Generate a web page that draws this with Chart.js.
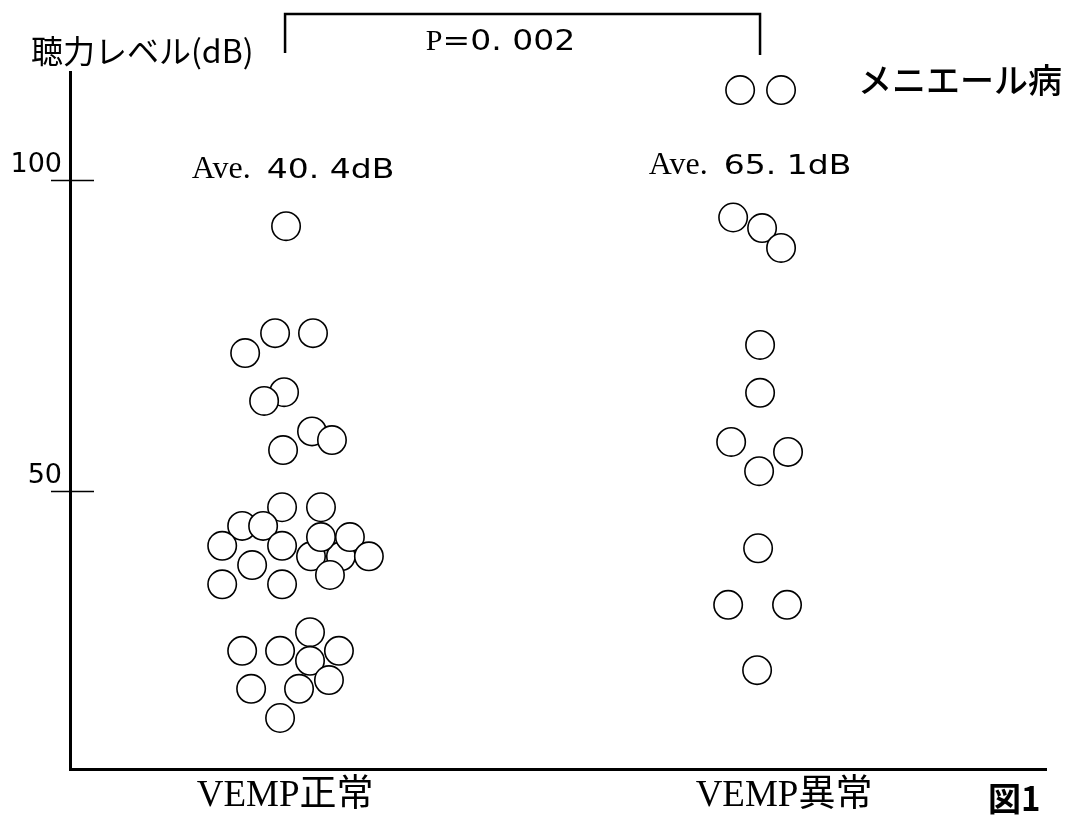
<!DOCTYPE html>
<html>
<head>
<meta charset="utf-8">
<title>聴力レベル - メニエール病</title>
<script src="https://cdn.jsdelivr.net/npm/chart.js@4/dist/chart.umd.min.js"></script>
<style>
  html, body { margin: 0; padding: 0; background: #fff; }
  canvas { display: block; }
</style>
</head>
<body>
<canvas id="chart" width="1072" height="823"></canvas>
<script>
// Groups on the x axis
const groups = ['VEMP正常', 'VEMP異常'];

// Hearing level (dB) of each patient, VEMP normal group
const normalLevels = [92.6, 75.4, 75.4, 72.2, 65.9, 64.5, 59.6, 58.2, 56.6,
  47.4, 47.4, 44.4, 44.4, 39.5, 39.5, 42.6, 42.6, 39.5, 41.2, 41.2, 38.1,
  36.5, 35.0, 35.0, 27.3, 24.3, 24.3, 24.3, 22.7, 19.6, 18.2, 18.2, 13.5];
// Horizontal spread of each dot around its group (in group units)
const normalJitter = [0.002, -0.020, 0.056, -0.080, -0.002, -0.042, 0.054, 0.094, -0.004,
  -0.006, 0.072, -0.086, -0.044, 0.052, 0.112, 0.072, 0.130, 0.168, -0.126, -0.006, -0.066,
  0.090, -0.126, -0.006, 0.050, -0.086, -0.010, 0.108, 0.050, 0.088, -0.068, 0.028, -0.010];

// Hearing level (dB) of each patient, VEMP abnormal group
const abnormalLevels = [114.5, 114.5, 92.3, 94.0, 89.1, 73.5, 65.8, 57.9, 56.3, 53.2,
  40.8, 31.7, 31.7, 21.2];
const abnormalJitter = [-0.088, -0.006, -0.044, -0.102, -0.006, -0.048, -0.048, -0.106, 0.008, -0.050,
  -0.052, -0.112, 0.006, -0.054];

// Group means and test result
const averages = [40.4, 65.1];
const pValue = '0. 002';

// Y axis tick values and range
const yTicks = [50, 100];
const yRange = [5.3, 117.4];
const xRange = [0.569, 2.525];

const SERIF = '"Liberation Serif", "Noto Sans CJK JP", serif';
const GOTHIC = '"DejaVu Sans", "Noto Sans CJK JP", sans-serif';
const CJK = '"Noto Sans CJK JP", "Noto Sans", sans-serif';

// Draw a run of text pieces, each with its own font and horizontal stretch
function drawRun(ctx, parts, x, baseline, align) {
  let total = 0;
  parts.forEach(p => {
    ctx.font = p.font;
    p.w = ctx.measureText(p.text).width * (p.sx || 1);
    total += p.w;
  });
  let px = align === 'center' ? x - total / 2 : x;
  ctx.textAlign = 'left';
  ctx.textBaseline = 'alphabetic';
  parts.forEach(p => {
    ctx.save();
    ctx.font = p.font;
    ctx.translate(px, baseline);
    ctx.scale(p.sx || 1, 1);
    ctx.fillText(p.text, 0, 0);
    ctx.restore();
    px += p.w;
  });
}

const fmtAvg = v => v.toFixed(1).replace('.', '. ') + 'dB';

const annotations = {
  id: 'annotations',
  afterDraw(chart) {
    const { ctx, chartArea: a, scales: { x, y } } = chart;
    ctx.save();
    ctx.fillStyle = '#000';
    ctx.strokeStyle = '#000';

    // tick marks crossing the y axis
    ctx.lineWidth = 1.3;
    yTicks.forEach(t => {
      const py = Math.round(y.getPixelForValue(t)) + 0.5;
      ctx.beginPath();
      ctx.moveTo(a.left - 19, py);
      ctx.lineTo(a.left + 24, py);
      ctx.stroke();
    });

    // significance bracket between the two groups
    const bx1 = x.getPixelForValue(1);
    const bx2 = x.getPixelForValue(2) - 24;
    ctx.lineWidth = 2.5;
    ctx.beginPath();
    ctx.moveTo(bx1, a.top - 19);
    ctx.lineTo(bx1, a.top - 58);
    ctx.lineTo(bx2, a.top - 58);
    ctx.lineTo(bx2, a.top - 17);
    ctx.stroke();

    drawRun(ctx, [
      { text: 'P', font: '30px ' + SERIF },
      { text: '=' + pValue, font: '28px ' + GOTHIC, sx: 1.18 }
    ], (bx1 + bx2) / 2 - 22, a.top - 22, 'center');

    // group means above the 100 dB line
    const y100 = y.getPixelForValue(100);
    const avgPos = [[x.getPixelForValue(1) + 8, y100 - 2], [x.getPixelForValue(2) - 34, y100 - 6]];
    averages.forEach((v, i) => {
      drawRun(ctx, [
        { text: 'Ave.  ', font: '32px ' + SERIF },
        { text: fmtAvg(v), font: '26px ' + GOTHIC, sx: 1.27 }
      ], avgPos[i][0], avgPos[i][1], 'center');
    });

    // axis title, disease name and figure number
    ctx.textAlign = 'left';
    ctx.textBaseline = 'middle';
    ctx.font = '32px ' + CJK;
    ctx.fillText('聴力レベル(dB)', 31, a.top - 21);
    ctx.font = '500 34px ' + CJK;
    ctx.fillText('メニエール病', 858, a.top + 8);
    ctx.font = 'bold 33px ' + CJK;
    ctx.fillText('図1', 988, a.bottom + 29);

    ctx.restore();
  }
};

const dots = (levels, jitter, g) => levels.map((v, i) => ({ x: g + jitter[i], y: v }));

new Chart(document.getElementById('chart'), {
  type: 'scatter',
  data: {
    datasets: [
      { label: groups[0], data: dots(normalLevels, normalJitter, 1) },
      { label: groups[1], data: dots(abnormalLevels, abnormalJitter, 2) }
    ]
  },
  options: {
    responsive: false,
    devicePixelRatio: 1,
    animation: false,
    events: [],
    layout: { padding: { top: 72, right: 26, left: 0, bottom: 0 } },
    elements: {
      point: {
        pointStyle: 'circle',
        radius: 14.2,
        borderWidth: 1.6,
        borderColor: '#000',
        backgroundColor: '#fff'
      }
    },
    datasets: { scatter: { clip: false } },
    plugins: {
      legend: { display: false },
      tooltip: { enabled: false }
    },
    scales: {
      x: {
        type: 'linear',
        min: xRange[0],
        max: xRange[1],
        afterFit: s => { s.height = 54; },
        afterBuildTicks: s => { s.ticks = groups.map((g, i) => ({ value: i + 1 })); },
        grid: { display: true, drawOnChartArea: false, drawTicks: false },
        border: { display: true, color: '#000', width: 3 },
        ticks: {
          padding: 5,
          maxRotation: 0,
          autoSkip: false,
          color: '#000',
          font: { family: SERIF, size: 37 },
          callback: v => groups[Math.round(v) - 1]
        }
      },
      y: {
        type: 'linear',
        min: yRange[0],
        max: yRange[1],
        afterFit: s => { s.width = 70; },
        afterBuildTicks: s => { s.ticks = yTicks.map(v => ({ value: v })); },
        grid: { display: true, drawOnChartArea: false, drawTicks: false },
        border: { display: true, color: '#000', width: 3 },
        ticks: {
          padding: 8,
          labelOffset: -15,
          color: '#000',
          font: { family: GOTHIC, size: 27 }
        }
      }
    }
  },
  plugins: [annotations]
});
</script>
</body>
</html>
